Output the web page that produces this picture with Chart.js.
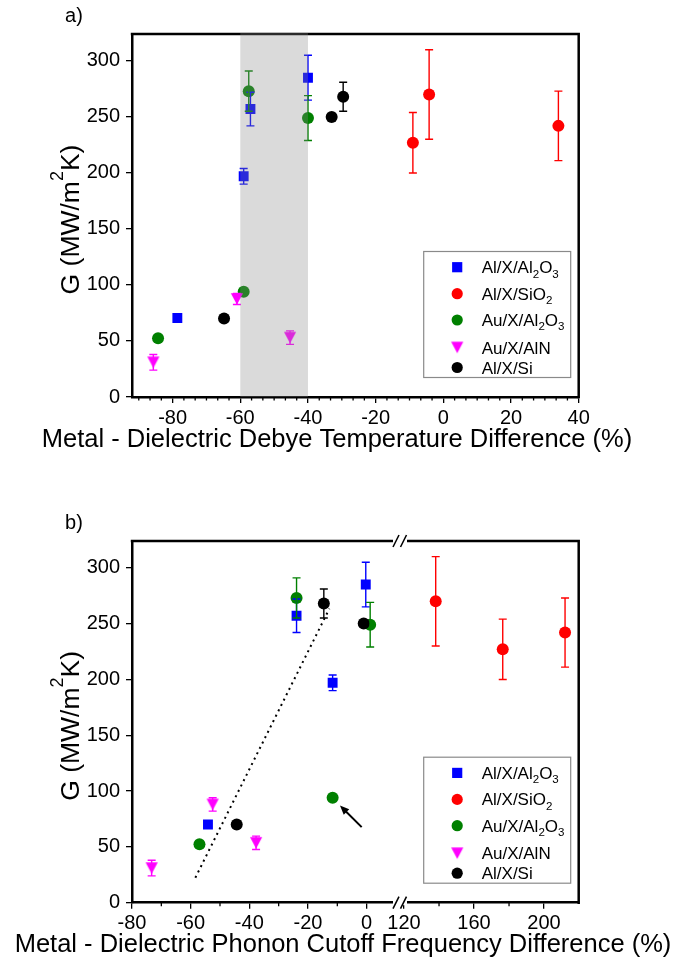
<!DOCTYPE html>
<html>
<head>
<meta charset="utf-8">
<script src="https://cdn.jsdelivr.net/npm/chart.js@4.4.1/dist/chart.umd.min.js"></script>
<style>
html, body { margin: 0; padding: 0; background: #fff; }
#wrap { position: relative; width: 688px; height: 962px; }
canvas { position: absolute; left: 0; }
</style>
</head>
<body>
<div id="wrap">
  <canvas id="chartA" width="688" height="481" style="top:0px"></canvas>
  <canvas id="chartB" width="688" height="481" style="top:481px"></canvas>
</div>
<script>
const FONT = "'Liberation Sans', Arial, Helvetica, sans-serif";
Chart.defaults.font.family = FONT;
Chart.defaults.color = '#000';

// series shared by both panels (legend order)
const seriesLabels = ['Al/X/Al_2O_3', 'Al/X/SiO_2', 'Au/X/Al_2O_3', 'Au/X/AlN', 'Al/X/Si'];
const seriesColors = ['#0000ff', '#ff0000', '#008000', '#ff00ff', '#000000'];

const yTicks = [0, 50, 100, 150, 200, 250, 300];

// panel a) : metal - dielectric Debye temperature difference (%)
const aAlAl2O3X = [-78.6, -59, -57, -40];
const aAlAl2O3G = [70.5, 197, 257, 285];
const aAlAl2O3Err = [3, 7, 15, 20];
const aAlSiO2X = [-9, -4.2, 34];
const aAlSiO2G = [227, 270, 242];
const aAlSiO2Err = [27, 40, 31];
const aAuAl2O3X = [-84.3, -59, -57.5, -40];
const aAuAl2O3G = [52.5, 94, 273, 249];
const aAuAl2O3Err = [0, 0, 18, 20];
const aAuAlNX = [-85.7, -61, -45.3];
const aAuAlNG = [31, 87.5, 53];
const aAuAlNErr = [7, 5, 6];
const aAlSiX = [-64.8, -33, -29.6];
const aAlSiG = [70, 250, 268];
const aAlSiErr = [0, 0, 13];
const aShade = [-60, -40];
const aXTicks = [-80, -60, -40, -20, 0, 20, 40];

// panel b) : metal - dielectric phonon cutoff frequency difference (%)
const bAlAl2O3X = [-54.1, -23.9, -11.6, -0.3];
const bAlAl2O3G = [70, 257, 197, 285];
const bAlAl2O3Err = [3, 15, 7, 20];
const bAlSiO2X = [138.1, 176.4, 212];   // right part of the broken axis
const bAlSiO2G = [270, 227, 242];
const bAlSiO2Err = [40, 27, 31];
const bAuAl2O3X = [-57, -23.9, -11.6, 1.2];
const bAuAl2O3G = [52.4, 273, 94, 249];
const bAuAl2O3Err = [0, 18, 0, 20];
const bAuAlNX = [-73.3, -52.5, -37.7];
const bAuAlNG = [31, 88, 53.6];
const bAuAlNErr = [7, 6, 6];
const bAlSiX = [-44.3, -14.6, -1.0];
const bAlSiG = [70, 268, 250];
const bAlSiErr = [0, 13, 0];
const bTrendX = [-58.4, -12.7];
const bTrendG = [22.4, 263.4];
const bArrowFrom = [-1.7, 67.7];
const bArrowTo = [-9.1, 87.1];
const bXTicksLeft = [-80, -60, -40, -20, 0];
const bXTicksRight = [120, 160, 200];

// down triangle marker, centred on its box like the original
function triangleDown(color) {
  const c = document.createElement('canvas');
  c.width = 14; c.height = 14;
  const g = c.getContext('2d');
  g.fillStyle = color;
  g.beginPath();
  g.moveTo(0.9, 1.3); g.lineTo(13.1, 1.3); g.lineTo(7, 12.7);
  g.closePath(); g.fill();
  return c;
}
const seriesStyles = ['rect', 'circle', 'circle', triangleDown('#ff00ff'), 'circle'];
const seriesRadius = [7, 6, 6, 7, 6];

function pointSet(i, xs, gs, errs, xAxisID) {
  return {
    type: 'scatter',
    label: seriesLabels[i],
    xAxisID: xAxisID, yAxisID: 'y',
    data: xs.map((x, j) => ({x: x, y: gs[j]})),
    yErr: errs,
    backgroundColor: seriesColors[i],
    borderColor: seriesColors[i],
    pointStyle: seriesStyles[i],
    pointRadius: seriesRadius[i],
    pointHoverRadius: seriesRadius[i],
    pointBorderWidth: 0,
    order: 10 - i
  };
}

// text with _n subscripts / ^n superscripts
function richParts(text) {
  const parts = [];
  const re = /([_^])(\d)/g;
  let last = 0, m;
  while ((m = re.exec(text)) !== null) {
    if (m.index > last) parts.push({t: text.slice(last, m.index), k: ''});
    parts.push({t: m[2], k: m[1]});
    last = re.lastIndex;
  }
  if (last < text.length) parts.push({t: text.slice(last), k: ''});
  return parts;
}
function richWidth(ctx, text, size) {
  let w = 0;
  richParts(text).forEach(p => {
    ctx.font = (p.k ? size * 0.68 : size) + 'px ' + FONT;
    w += ctx.measureText(p.t).width;
  });
  return w;
}
function drawRich(ctx, text, x, y, size) {
  ctx.textAlign = 'left';
  ctx.textBaseline = 'alphabetic';
  richParts(text).forEach(p => {
    const s = p.k ? size * 0.68 : size;
    ctx.font = s + 'px ' + FONT;
    let dy = 0;
    if (p.k === '_') dy = size * 0.26;
    if (p.k === '^') dy = -size * 0.6;
    ctx.fillText(p.t, x, y + dy);
    x += ctx.measureText(p.t).width;
  });
}

const errorBars = {
  id: 'errorBars',
  afterDatasetsDraw(chart) {
    const ctx = chart.ctx;
    const ys = chart.scales.y;
    chart.data.datasets.forEach((ds, i) => {
      if (!ds.yErr) return;
      const xs = chart.scales[chart.getDatasetMeta(i).xAxisID];
      ctx.save();
      ctx.strokeStyle = ds.borderColor;
      ctx.lineWidth = 1.4;
      ds.data.forEach((p, j) => {
        const e = ds.yErr[j];
        if (!e) return;
        const px = xs.getPixelForValue(p.x);
        const top = ys.getPixelForValue(p.y + e);
        const bot = ys.getPixelForValue(p.y - e);
        ctx.beginPath();
        ctx.moveTo(px, top); ctx.lineTo(px, bot);
        ctx.moveTo(px - 4, top); ctx.lineTo(px + 4, top);
        ctx.moveTo(px - 4, bot); ctx.lineTo(px + 4, bot);
        ctx.stroke();
      });
      ctx.restore();
    });
  }
};

const frameAndText = {
  id: 'frameAndText',
  afterDraw(chart, args, opts) {
    const ctx = chart.ctx;
    const ca = chart.chartArea;
    ctx.save();
    ctx.strokeStyle = '#000';
    ctx.fillStyle = '#000';

    // minor ticks on the x axes
    ctx.lineWidth = 1.3;
    (opts.minor || []).forEach(m => {
      const sc = chart.scales[m.axis];
      m.values.forEach(v => {
        const px = sc.getPixelForValue(v);
        ctx.beginPath(); ctx.moveTo(px, ca.bottom); ctx.lineTo(px, ca.bottom + 3.5); ctx.stroke();
      });
    });

    // top and right frame
    ctx.lineWidth = 2.5;
    ctx.beginPath();
    ctx.moveTo(ca.left - 1.2, ca.top);
    ctx.lineTo(ca.right, ca.top);
    ctx.lineTo(ca.right, ca.bottom + 1.2);
    ctx.stroke();

    // axis break marks
    if (opts.breakAt) {
      const bx = opts.breakAt;
      [ca.top, ca.bottom].forEach(yy => {
        ctx.fillStyle = '#fff';
        ctx.fillRect(bx - 7, yy - 2.5, 14, 5);
        ctx.lineWidth = 1.5;
        [bx - 4, bx + 3.5].forEach(sx => {
          ctx.beginPath(); ctx.moveTo(sx - 3, yy + 6); ctx.lineTo(sx + 3, yy - 6); ctx.stroke();
        });
      });
      ctx.fillStyle = '#000';
    }

    // panel letter
    ctx.font = '20px ' + FONT;
    ctx.textAlign = 'center';
    ctx.textBaseline = 'alphabetic';
    ctx.fillText(opts.letter, 74, opts.letterY);

    // x title
    ctx.font = '25.5px ' + FONT;
    ctx.fillText(opts.xTitle, opts.xTitleX, opts.xTitleY);

    // y title, rotated, with superscript
    const yt = 'G (MW/m^2K)';
    const size = 26.5;
    ctx.save();
    ctx.translate(79, (ca.top + ca.bottom) / 2 + 4);
    ctx.rotate(-Math.PI / 2);
    drawRich(ctx, yt, -richWidth(ctx, yt, size) / 2, 0, size);
    ctx.restore();

    // legend box
    const w = 147, h = 126;
    const x0 = ca.right - 8 - w, y0 = ca.bottom - 19.5 - h;
    const rows = [15.7, 42.2, 68.5, 96, 116];
    ctx.lineWidth = 1.2;
    ctx.strokeStyle = '#8a8a8a';
    ctx.strokeRect(x0, y0, w, h);
    seriesLabels.forEach((lab, i) => {
      const cy = y0 + rows[i];
      ctx.fillStyle = seriesColors[i];
      Chart.helpers.drawPoint(ctx, {pointStyle: seriesStyles[i], rotation: 0, radius: i === 0 ? 7.2 : 5.6, borderWidth: 0}, x0 + 33.5, cy);
      ctx.fillStyle = '#000';
      drawRich(ctx, lab, x0 + 58, cy + 6, 17);
    });

    // shaded band, drawn over the points like the original
    if (opts.shade) {
      const sx = chart.scales.x;
      const l = sx.getPixelForValue(opts.shade[0]), r = sx.getPixelForValue(opts.shade[1]);
      ctx.fillStyle = 'rgba(134,134,134,0.31)';
      ctx.fillRect(l, ca.top - 1.2, r - l, ca.bottom - ca.top + 1.2);
    }

    // arrow
    if (opts.arrow) {
      const sx = chart.scales[opts.arrow.axis], sy = chart.scales.y;
      const x1 = sx.getPixelForValue(opts.arrow.from[0]), y1 = sy.getPixelForValue(opts.arrow.from[1]);
      const x2 = sx.getPixelForValue(opts.arrow.to[0]), y2 = sy.getPixelForValue(opts.arrow.to[1]);
      const a = Math.atan2(y2 - y1, x2 - x1);
      ctx.strokeStyle = '#000'; ctx.fillStyle = '#000'; ctx.lineWidth = 2;
      ctx.beginPath(); ctx.moveTo(x1, y1);
      ctx.lineTo(x2 - 6 * Math.cos(a), y2 - 6 * Math.sin(a)); ctx.stroke();
      ctx.beginPath();
      ctx.moveTo(x2, y2);
      ctx.lineTo(x2 - 10 * Math.cos(a - 0.4), y2 - 10 * Math.sin(a - 0.4));
      ctx.lineTo(x2 - 10 * Math.cos(a + 0.4), y2 - 10 * Math.sin(a + 0.4));
      ctx.closePath(); ctx.fill();
    }
    ctx.restore();
  }
};

function yScale() {
  return {
    type: 'linear', min: 0, max: 324,
    afterBuildTicks: s => { s.ticks = yTicks.map(v => ({value: v})); },
    ticks: {font: {size: 20}, padding: 6},
    grid: {drawOnChartArea: false, tickLength: 6, color: '#000', lineWidth: 1.3},
    border: {color: '#000', width: 2.5},
    afterFit: s => { s.width = 132; }
  };
}
function xScale(min, max, ticks, height, extra) {
  return Object.assign({
    type: 'linear', position: 'bottom', min: min, max: max,
    afterBuildTicks: s => { s.ticks = ticks.map(v => ({value: v})); },
    ticks: {font: {size: 20}, padding: 3, maxRotation: 0, autoSkip: false, callback: v => String(v)},
    grid: {drawOnChartArea: false, tickLength: 6, color: '#000', lineWidth: 1.3},
    border: {color: '#000', width: 2.5},
    afterFit: s => { s.height = height; }
  }, extra || {});
}

function minorBetween(majors, count) {
  const out = [];
  for (let i = 0; i < majors.length - 1; i++) {
    const step = (majors[i + 1] - majors[i]) / (count + 1);
    for (let k = 1; k <= count; k++) out.push(majors[i] + k * step);
  }
  return out;
}

const baseOptions = {
  responsive: false,
  animation: false,
  events: [],
  plugins: {legend: {display: false}, tooltip: {enabled: false}}
};

// ---------- panel a ----------
new Chart(document.getElementById('chartA'), {
  type: 'scatter',
  data: {
    datasets: [
      pointSet(0, aAlAl2O3X, aAlAl2O3G, aAlAl2O3Err, 'x'),
      pointSet(1, aAlSiO2X, aAlSiO2G, aAlSiO2Err, 'x'),
      pointSet(2, aAuAl2O3X, aAuAl2O3G, aAuAl2O3Err, 'x'),
      pointSet(3, aAuAlNX, aAuAlNG, aAuAlNErr, 'x'),
      pointSet(4, aAlSiX, aAlSiG, aAlSiErr, 'x')
    ]
  },
  options: Object.assign({}, baseOptions, {
    layout: {padding: {left: 0, top: 34, right: 109.3, bottom: 0}},
    scales: {x: xScale(-92, 40, aXTicks, 84), y: yScale()},
    plugins: Object.assign({}, baseOptions.plugins, {
      frameAndText: {
        letter: 'a)', letterY: 22,
        xTitle: 'Metal - Dielectric Debye Temperature Difference (%)', xTitleX: 337, xTitleY: 447,
        shade: aShade,
        minor: [{axis: 'x', values: minorBetween([-100, -80, -60, -40, -20, 0, 20, 40], 5).filter(v => v > -92)}]
      }
    })
  }),
  plugins: [errorBars, frameAndText]
});

// ---------- panel b (broken x axis: two stacked x scales) ----------
new Chart(document.getElementById('chartB'), {
  type: 'scatter',
  data: {
    datasets: [
      {
        type: 'line', label: 'trend', xAxisID: 'x1', yAxisID: 'y',
        data: bTrendX.map((x, j) => ({x: x, y: bTrendG[j]})),
        borderColor: '#000', borderWidth: 2, borderDash: [2, 4],
        pointRadius: 0, fill: false, order: 20
      },
      pointSet(0, bAlAl2O3X, bAlAl2O3G, bAlAl2O3Err, 'x1'),
      pointSet(1, bAlSiO2X, bAlSiO2G, bAlSiO2Err, 'x2'),
      pointSet(2, bAuAl2O3X, bAuAl2O3G, bAuAl2O3Err, 'x1'),
      pointSet(3, bAuAlNX, bAuAlNG, bAuAlNErr, 'x1'),
      pointSet(4, bAlSiX, bAlSiG, bAlSiErr, 'x1')
    ]
  },
  options: Object.assign({}, baseOptions, {
    layout: {padding: {left: 0, top: 60, right: 109.3, bottom: 0}},
    scales: {
      x1: xScale(-80, 11.37, bXTicksLeft, 59.3, {stack: 'bx', stackWeight: 268}),
      x2: xScale(117.7, 219.8, bXTicksRight, 59.3, {stack: 'bx', stackWeight: 178.7}),
      y: yScale()
    },
    plugins: Object.assign({}, baseOptions.plugins, {
      frameAndText: {
        letter: 'b)', letterY: 48,
        xTitle: 'Metal - Dielectric Phonon Cutoff Frequency Difference (%)', xTitleX: 343, xTitleY: 471,
        breakAt: 400,
        arrow: {axis: 'x1', from: bArrowFrom, to: bArrowTo},
        minor: [{axis: 'x1', values: [-70, -50, -30, -10]}, {axis: 'x2', values: [140, 180]}]
      }
    })
  }),
  plugins: [errorBars, frameAndText]
});
</script>
</body>
</html>
